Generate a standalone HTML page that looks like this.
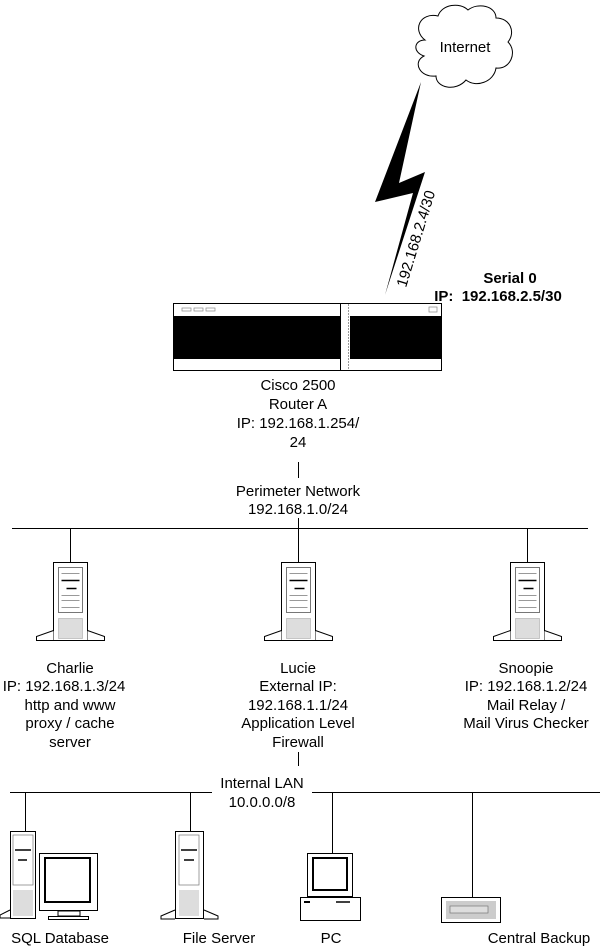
<!DOCTYPE html>
<html><head><meta charset="utf-8"><style>
html,body{margin:0;padding:0;background:#fff}
svg{display:block}
text{font-family:"Liberation Sans",Arial,sans-serif;font-size:15px;fill:#000}
</style></head><body>
<svg width="600" height="947" viewBox="0 0 600 947">
<defs>
<g id="tower">
  <rect x="-17" y="0" width="34" height="78" fill="#fff" stroke="#000" stroke-width="1"/>
  <rect x="-12" y="5" width="24" height="45" fill="#fff" stroke="#555" stroke-width="0.8"/>
  <line x1="-9" y1="11" x2="9" y2="11" stroke="#999"/>
  <line x1="-9" y1="18" x2="9" y2="18" stroke="#000" stroke-width="1.5"/>
  <line x1="-4" y1="26" x2="6" y2="26" stroke="#000" stroke-width="1.5"/>
  <line x1="-9" y1="33" x2="9" y2="33" stroke="#999"/>
  <line x1="-9" y1="38" x2="9" y2="38" stroke="#999"/>
  <line x1="-9" y1="45" x2="9" y2="45" stroke="#999"/>
  <rect x="-12" y="56" width="24" height="20" fill="#ddd" stroke="#aaa" stroke-width="0.6"/>
  <path d="M-17,68 L-34,74 L-34,78 L-17,78" fill="#fff" stroke="#000"/>
  <path d="M17,68 L34,74 L34,78 L17,78" fill="#fff" stroke="#000"/>
</g>
</defs>

<!-- Cloud -->
<path d="M425,40 C412,30 420,12 438,16 C442,4 460,2 468,10 C478,2 496,6 496,18 C510,18 516,32 508,42 C518,52 510,70 496,68 C494,82 476,88 466,80 C456,92 436,88 436,76 C420,78 412,62 424,56 C412,52 414,40 425,40 Z" fill="#fff" stroke="#000" stroke-width="1"/>
<text x="465" y="52" text-anchor="middle">Internet</text>

<!-- lightning -->
<polygon points="421,82 375,202 413,193 385,295 425,172 399,183" fill="#000"/>
<text transform="translate(406,288) rotate(-73)" font-size="15">192.168.2.4/30</text>

<text x="510" y="283" text-anchor="middle" font-weight="bold">Serial 0</text>
<text x="498" y="301" text-anchor="middle" font-weight="bold" xml:space="preserve">IP:  192.168.2.5/30</text>

<!-- Router -->
<rect x="173.5" y="303.5" width="268" height="67" fill="#fff" stroke="#000"/>
<rect x="174" y="316" width="166" height="43" fill="#000"/>
<rect x="350" y="316" width="91" height="43" fill="#000"/>
<line x1="340.5" y1="304" x2="340.5" y2="370" stroke="#000"/>
<line x1="348.5" y1="304" x2="348.5" y2="370" stroke="#999" stroke-dasharray="2,1"/>
<rect x="182" y="308" width="9" height="3" fill="none" stroke="#888" stroke-width="0.7"/>
<rect x="194" y="308" width="9" height="3" fill="none" stroke="#888" stroke-width="0.7"/>
<rect x="206" y="308" width="9" height="3" fill="none" stroke="#888" stroke-width="0.7"/>
<rect x="429" y="307" width="8" height="5" fill="none" stroke="#888" stroke-width="0.7"/>

<text x="298" y="390" text-anchor="middle">Cisco 2500</text>
<text x="298" y="409" text-anchor="middle">Router A</text>
<text x="298" y="428" text-anchor="middle">IP: 192.168.1.254/</text>
<text x="298" y="447" text-anchor="middle">24</text>
<line x1="298.5" y1="462" x2="298.5" y2="478" stroke="#000"/>
<text x="298" y="496" text-anchor="middle">Perimeter Network</text>
<text x="298" y="514" text-anchor="middle">192.168.1.0/24</text>
<line x1="298.5" y1="518" x2="298.5" y2="528" stroke="#000"/>

<line x1="12" y1="528.5" x2="588" y2="528.5" stroke="#000"/>
<line x1="70.5" y1="528" x2="70.5" y2="562" stroke="#000"/>
<line x1="298.5" y1="528" x2="298.5" y2="562" stroke="#000"/>
<line x1="527.5" y1="528" x2="527.5" y2="562" stroke="#000"/>
<use href="#tower" x="70.5" y="562.5"/>
<use href="#tower" x="298.5" y="562.5"/>
<use href="#tower" x="527.5" y="562.5"/>

<text x="70" y="673" text-anchor="middle">Charlie</text>
<text x="64" y="691" text-anchor="middle">IP: 192.168.1.3/24</text>
<text x="70" y="710" text-anchor="middle">http and www</text>
<text x="70" y="728" text-anchor="middle">proxy / cache</text>
<text x="70" y="747" text-anchor="middle">server</text>

<text x="298" y="673" text-anchor="middle">Lucie</text>
<text x="298" y="691" text-anchor="middle">External IP:</text>
<text x="298" y="710" text-anchor="middle">192.168.1.1/24</text>
<text x="298" y="728" text-anchor="middle">Application Level</text>
<text x="298" y="747" text-anchor="middle">Firewall</text>
<line x1="298.5" y1="752" x2="298.5" y2="766" stroke="#000"/>

<text x="526" y="673" text-anchor="middle">Snoopie</text>
<text x="526" y="691" text-anchor="middle">IP: 192.168.1.2/24</text>
<text x="526" y="710" text-anchor="middle">Mail Relay /</text>
<text x="526" y="728" text-anchor="middle">Mail Virus Checker</text>

<!-- Internal LAN -->
<line x1="10" y1="792.5" x2="212" y2="792.5" stroke="#000"/>
<line x1="312" y1="792.5" x2="600" y2="792.5" stroke="#000"/>
<text x="262" y="788" text-anchor="middle">Internal LAN</text>
<text x="262" y="807" text-anchor="middle">10.0.0.0/8</text>

<line x1="25.5" y1="792" x2="25.5" y2="831" stroke="#000"/>
<line x1="190.5" y1="792" x2="190.5" y2="831" stroke="#000"/>
<line x1="332.5" y1="792" x2="332.5" y2="853" stroke="#000"/>
<line x1="472.5" y1="792" x2="472.5" y2="897" stroke="#000"/>

<!-- SQL tower -->
<g>
<rect x="10.5" y="831.5" width="25" height="87" fill="#fff" stroke="#000"/>
<rect x="13" y="835" width="20" height="50" fill="#fff" stroke="#777" stroke-width="0.7"/>
<line x1="15" y1="850" x2="31" y2="850" stroke="#000" stroke-width="1.5"/>
<line x1="18" y1="860" x2="27" y2="860" stroke="#000" stroke-width="1.5"/>
<rect x="13" y="890" width="20" height="26" fill="#ddd"/>
<path d="M10,910 L0,915 L0,918 L10,918" fill="#fff" stroke="#000"/>
</g>
<!-- SQL monitor -->
<rect x="39.5" y="853.5" width="58" height="57" fill="#fff" stroke="#000"/>
<rect x="45" y="858" width="45" height="44" fill="#fff" stroke="#000" stroke-width="2"/>
<rect x="58" y="911" width="22" height="5" fill="#fff" stroke="#000"/>
<rect x="48.5" y="916.5" width="40" height="3" fill="#fff" stroke="#000"/>

<!-- File server -->
<g>
<rect x="175.5" y="831.5" width="28" height="87" fill="#fff" stroke="#000"/>
<rect x="179" y="835" width="20" height="50" fill="#fff" stroke="#777" stroke-width="0.7"/>
<line x1="181" y1="850" x2="197" y2="850" stroke="#000" stroke-width="1.5"/>
<line x1="184" y1="860" x2="194" y2="860" stroke="#000" stroke-width="1.5"/>
<rect x="179" y="890" width="20" height="26" fill="#ddd"/>
<path d="M175,910 L161,916 L161,919 L175,919" fill="#fff" stroke="#000"/>
<path d="M204,910 L218,916 L218,919 L204,919" fill="#fff" stroke="#000"/>
</g>

<!-- PC -->
<rect x="307.5" y="853.5" width="45" height="43" fill="#fff" stroke="#000"/>
<rect x="313" y="858" width="34" height="32" fill="#fff" stroke="#000" stroke-width="2"/>
<rect x="300.5" y="897.5" width="60" height="23" fill="#fff" stroke="#000"/>
<line x1="304" y1="902" x2="310" y2="902" stroke="#000" stroke-width="2"/>
<line x1="336" y1="902" x2="350" y2="902" stroke="#000" stroke-width="1.5"/>

<!-- Backup -->
<rect x="441.5" y="897.5" width="59" height="25" fill="#fff" stroke="#000"/>
<rect x="446" y="901" width="50" height="18" fill="#ccc"/>
<rect x="450" y="906" width="38" height="7" fill="#ddd" stroke="#777" stroke-width="0.7"/>

<text x="60" y="943" text-anchor="middle">SQL Database</text>
<text x="219" y="943" text-anchor="middle">File Server</text>
<text x="331" y="943" text-anchor="middle">PC</text>
<text x="539" y="943" text-anchor="middle">Central Backup</text>
</svg>
</body></html>
